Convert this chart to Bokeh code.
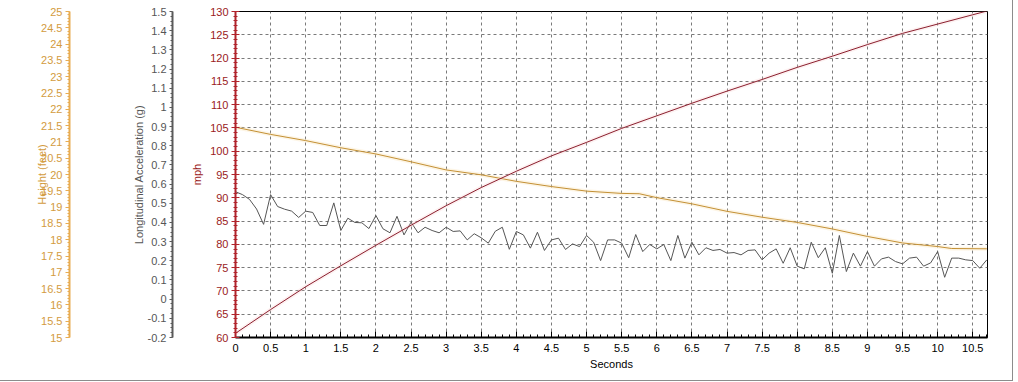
from bokeh.plotting import figure
from bokeh.models import (Range1d, LinearAxis, SingleIntervalTicker, FixedTicker,
                          CustomJSTickFormatter)
from bokeh.embed import file_html
from bokeh.resources import INLINE

# ---------------- data ----------------
time_s = [0.0, 0.1, 0.2, 0.3, 0.4, 0.5, 0.6, 0.7, 0.8, 0.9,
          1.0, 1.1, 1.2, 1.3, 1.4, 1.5, 1.6, 1.7, 1.8, 1.9,
          2.0, 2.1, 2.2, 2.3, 2.4, 2.5, 2.6, 2.7, 2.8, 2.9,
          3.0, 3.1, 3.2, 3.3, 3.4, 3.5, 3.6, 3.7, 3.8, 3.9,
          4.0, 4.1, 4.2, 4.3, 4.4, 4.5, 4.6, 4.7, 4.8, 4.9,
          5.0, 5.1, 5.2, 5.3, 5.4, 5.5, 5.6, 5.7, 5.8, 5.9,
          6.0, 6.1, 6.2, 6.3, 6.4, 6.5, 6.6, 6.7, 6.8, 6.9,
          7.0, 7.1, 7.2, 7.3, 7.4, 7.5, 7.6, 7.7, 7.8, 7.9,
          8.0, 8.1, 8.2, 8.3, 8.4, 8.5, 8.6, 8.7, 8.8, 8.9,
          9.0, 9.1, 9.2, 9.3, 9.4, 9.5, 9.6, 9.7, 9.8, 9.9,
          10.0, 10.1, 10.2, 10.3, 10.4, 10.5, 10.6, 10.7]
accel_g = [0.56, 0.545, 0.52, 0.47, 0.39, 0.545, 0.483, 0.469, 0.459, 0.426,
           0.459, 0.452, 0.384, 0.384, 0.502, 0.358, 0.422, 0.400, 0.398, 0.368,
           0.436, 0.367, 0.346, 0.432, 0.335, 0.401, 0.346, 0.375, 0.358, 0.346,
           0.375, 0.353, 0.356, 0.309, 0.341, 0.320, 0.292, 0.354, 0.375, 0.260,
           0.353, 0.335, 0.266, 0.349, 0.254, 0.309, 0.318, 0.259, 0.288, 0.274,
           0.332, 0.297, 0.201, 0.309, 0.309, 0.292, 0.216, 0.337, 0.248, 0.285,
           0.262, 0.285, 0.201, 0.332, 0.214, 0.297, 0.231, 0.268, 0.254, 0.259,
           0.240, 0.243, 0.231, 0.254, 0.257, 0.205, 0.240, 0.262, 0.187, 0.268,
           0.172, 0.158, 0.297, 0.216, 0.268, 0.135, 0.332, 0.144, 0.240, 0.172,
           0.248, 0.172, 0.210, 0.219, 0.196, 0.184, 0.214, 0.219, 0.172, 0.189,
           0.248, 0.114, 0.214, 0.214, 0.205, 0.201, 0.161, 0.205]

speed_t = [0.0, 0.5, 1.0, 1.5, 2.0, 2.5, 3.0, 3.5, 4.0, 4.5, 5.0, 5.5,
           6.0, 6.5, 7.0, 7.5, 8.0, 8.5, 9.0, 9.5, 10.0, 10.5, 10.7]
speed_mph = [60.9, 66.0, 70.9, 75.4, 79.8, 84.1, 88.3, 92.2, 95.7, 99.0, 101.9, 104.9,
             107.6, 110.3, 112.9, 115.4, 118.0, 120.4, 122.9, 125.3, 127.3, 129.3, 130.1]

height_t = [0.0, 0.5, 1.0, 1.5, 2.0, 2.5, 3.0, 3.5, 4.0, 4.5, 5.0, 5.5, 5.75,
            6.0, 6.5, 7.0, 7.5, 8.0, 8.5, 9.0, 9.5, 10.0, 10.2, 10.7]
height_ft = [21.45, 21.23, 21.04, 20.82, 20.63, 20.39, 20.14, 19.99, 19.79, 19.63, 19.49,
             19.42, 19.41, 19.29, 19.10, 18.87, 18.69, 18.53, 18.33, 18.10, 17.90, 17.79,
             17.73, 17.72]

FONT = "Liberation Sans"
FS = "11px"
ORANGE_TXT = "#D39B3E"
ORANGE_LINE = "#E8AC52"
GRAY_TXT = "#555555"
RED_TXT = "#9A1A22"
RED_LINE = "#B0242C"

p = figure(width=1013, height=381, output_backend="svg", toolbar_location=None,
           x_range=Range1d(0, 10.71), y_range=Range1d(60, 130),
           min_border_left=235, min_border_right=26, min_border_top=11,
           min_border_bottom=44, background_fill_color="white",
           border_fill_color="white",
           styles={"border-right": "1px solid #8C8C8C",
                   "border-bottom": "1px solid #8C8C8C"})
p.outline_line_color = "black"
p.outline_line_width = 1

p.extra_y_ranges = {"accel": Range1d(-0.2, 1.5), "height": Range1d(15, 25)}

fmt = CustomJSTickFormatter(code="return String(Math.round(tick*10)/10);")

def style_axis(ax, txt, line):
    ax.major_label_text_font = FONT
    ax.major_label_text_font_size = FS
    ax.major_label_text_color = txt
    ax.axis_label_text_font = FONT
    ax.axis_label_text_font_size = FS
    ax.axis_label_text_font_style = "normal"
    ax.axis_label_text_color = txt
    ax.axis_line_color = line
    ax.major_tick_line_color = line
    ax.minor_tick_line_color = line

# x axis
xa = p.xaxis[0]
xa.ticker = SingleIntervalTicker(interval=0.5, num_minor_ticks=5)
xa.formatter = fmt
xa.axis_label = "Seconds"
style_axis(xa, "black", "black")
xa.axis_line_width = 2
xa.major_tick_in = 6
xa.major_tick_out = 0
xa.minor_tick_in = 3
xa.minor_tick_out = 0
xa.major_label_standoff = 6
xa.axis_label_standoff = 3

# mph axis (closest to frame)
ya = p.yaxis[0]
ya.ticker = SingleIntervalTicker(interval=5, num_minor_ticks=5)
ya.axis_label = "mph"
style_axis(ya, RED_TXT, RED_LINE)
ya.axis_line_width = 2
ya.major_tick_in = 4
ya.major_tick_out = 4
ya.minor_tick_in = 2
ya.minor_tick_out = 2
ya.major_label_standoff = 3
ya.axis_label_standoff = 4

def spacer(n):
    # an empty axis used only to keep the stacked axes apart
    return LinearAxis(ticker=FixedTicker(ticks=[61], minor_ticks=[]), major_tick_out=n,
                      major_tick_in=0, minor_tick_out=0, minor_tick_in=0,
                      axis_line_color=None, major_tick_line_color="white",
                      minor_tick_line_color=None, major_label_standoff=0,
                      major_label_overrides={61: ""},
                      major_label_text_font_size="1px")

p.add_layout(spacer(16), "left")

acc_ax = LinearAxis(y_range_name="accel", axis_label="Longitudinal Acceleration (g)",
                    ticker=SingleIntervalTicker(interval=0.1, num_minor_ticks=4),
                    formatter=fmt)
style_axis(acc_ax, GRAY_TXT, "#5A5A5A")
acc_ax.axis_line_width = 2
acc_ax.major_tick_in = 0
acc_ax.major_tick_out = 3
acc_ax.minor_tick_in = 0
acc_ax.minor_tick_out = 2
acc_ax.major_label_standoff = 3
acc_ax.axis_label_standoff = 0
p.add_layout(acc_ax, "left")

p.add_layout(spacer(60), "left")

h_ax = LinearAxis(y_range_name="height", axis_label="Height (feet)",
                  ticker=SingleIntervalTicker(interval=0.5, num_minor_ticks=5),
                  formatter=fmt)
style_axis(h_ax, ORANGE_TXT, ORANGE_LINE)
h_ax.axis_line_width = 2
h_ax.major_tick_in = 0
h_ax.major_tick_out = 4
h_ax.minor_tick_in = 0
h_ax.minor_tick_out = 2
h_ax.major_label_standoff = 3
h_ax.axis_label_standoff = -10
p.add_layout(h_ax, "left")

# grids
p.xgrid[0].ticker = xa.ticker
p.ygrid[0].ticker = ya.ticker
for g in (p.xgrid[0], p.ygrid[0]):
    g.grid_line_color = "#7A7A7A"
    g.grid_line_dash = "3 3"
    g.grid_line_width = 1

# series
p.line(height_t, height_ft, y_range_name="height", line_color="#F8DDA8",
       line_width=4, line_alpha=0.3)
p.line(height_t, height_ft, y_range_name="height", line_color="#C39035", line_width=1)
p.line(time_s, accel_g, y_range_name="accel", line_color="#555555", line_width=1)
p.line(speed_t, speed_mph, line_color="#F8C8C8", line_width=4, line_alpha=0.25)
p.line(speed_t, speed_mph, line_color="#8B1F2E", line_width=1)

open("out.html", "w").write(file_html(p, INLINE))
